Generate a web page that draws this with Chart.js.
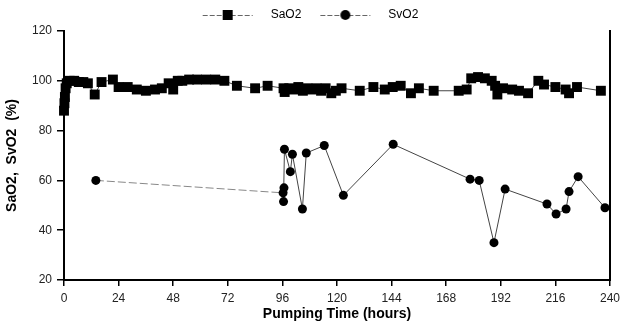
<!DOCTYPE html>
<html>
<head>
<meta charset="utf-8">
<script src="https://cdn.jsdelivr.net/npm/chart.js@4"></script>
<style>
  html, body { margin: 0; padding: 0; background: #fff; }
</style>
</head>
<body>
<canvas id="chart" width="625" height="327"></canvas>
<script>
// ==================== DATOS ====================

const xTicks = [0, 24, 48, 72, 96, 120, 144, 168, 192, 216, 240];
const yTicks = [20, 40, 60, 80, 100, 120];

// SaO2 (cuadrados)
const saHours = [0, 0.2, 0.4, 0.7, 1.2, 2.5, 4.5, 6.5, 8.5, 10.5, 13.5, 16.5, 21.5, 24, 28,
  32, 36, 40, 43, 46, 48, 50, 52, 55, 58.5, 62.5, 66.5, 70.5, 76, 84,
  89.5, 96.5, 97, 99, 101, 103, 105, 107, 109, 111, 113, 115, 117.5, 119.5, 122,
  130, 136, 141, 144.5, 148, 152.5, 156, 162.5, 173.5, 177, 179, 182, 185, 188, 189.5,
  190.5, 193, 197, 200, 204, 208.5, 211, 216, 220.5, 222, 225.5, 236];
const saValues = [88, 91, 93.5, 97, 99, 100, 100, 99.5, 99.5, 99, 94.5, 99.5, 100.5, 97.5, 97.5,
  96.5, 96, 96.5, 97, 99, 96.5, 100, 100, 100.5, 100.5, 100.5, 100.5, 100, 98, 97,
  98, 97, 95.5, 97, 96.5, 97.5, 96, 97, 96.5, 97, 96, 97, 95, 96, 97,
  96, 97.5, 96.5, 97.5, 98, 95, 97, 96, 96, 96.5, 101, 101.5, 101, 100, 98,
  94.5, 97, 96.5, 96, 95, 100, 98.5, 97.5, 96.5, 95, 97.5, 96];

// SvO2 (circulos)
const svHours = [14, 96.3, 96.5, 96.7, 96.9, 99.5, 100.4, 104.8, 106.5, 114.4, 122.8,
  144.7, 178.5, 182.5, 189, 193.9, 212.3, 216.3, 220.7, 222, 226, 237.8];
const svValues = [60, 55, 51.5, 57, 72.5, 63.5, 70.5, 48.5, 71, 74, 54,
  74.5, 60.5, 60, 35, 56.5, 50.5, 46.5, 48.5, 55.5, 61.5, 49];

const toPoints = (xs, ys) => xs.map((x, i) => ({ x, y: ys[i] }));

// icono de leyenda: linea con marcador
function legendIcon(style) {
  const c = document.createElement("canvas");
  c.width = 72;
  c.height = 12;
  const g = c.getContext("2d");
  g.strokeStyle = "#666";
  g.lineWidth = 1;
  g.setLineDash([5, 2]);
  g.beginPath();
  g.moveTo(10, 6.5);
  g.lineTo(60, 6.5);
  g.stroke();
  g.fillStyle = "#000";
  if (style === "rect") g.fillRect(30, 1, 10, 10);
  else {
    g.beginPath();
    g.arc(35, 6, 5, 0, Math.PI * 2);
    g.fill();
  }
  return c;
}

const font = '"Liberation Sans", Arial, sans-serif';

new Chart(document.getElementById("chart"), {
  type: "line",
  data: {
    datasets: [
      {
        label: "SaO2",
        data: toPoints(saHours, saValues),
        pointStyle: "rect",
        pointRadius: 7,
        backgroundColor: "#000",
        pointBorderWidth: 0,
        borderColor: "#444",
        borderWidth: 1,
        clip: false,
      },
      {
        label: "SvO2",
        data: toPoints(svHours, svValues),
        pointStyle: "circle",
        pointRadius: 4.5,
        backgroundColor: "#000",
        pointBorderWidth: 0,
        borderColor: "#444",
        borderWidth: 1,
        clip: false,
        segment: {
          borderColor: (ctx) => (ctx.p0DataIndex === 0 ? "#888" : undefined),
          borderDash: (ctx) => (ctx.p0DataIndex === 0 ? [8, 3] : undefined),
        },
      },
    ],
  },
  options: {
    responsive: false,
    animation: false,
    layout: { padding: { left: 0, right: 14, top: 0, bottom: 0 } },
    plugins: {
      tooltip: { enabled: false },
      legend: {
        position: "top",
        labels: {
          usePointStyle: true,
          pointStyleWidth: 72,
          padding: 9,
          color: "#222",
          font: { family: font, size: 12 },
          generateLabels: (chart) =>
            chart.data.datasets.map((ds, i) => ({
              text: ds.label,
              datasetIndex: i,
              pointStyle: legendIcon(ds.pointStyle),
              fillStyle: "#000",
              strokeStyle: "#000",
              lineWidth: 0,
            })),
        },
      },
    },
    scales: {
      x: {
        type: "linear",
        min: 0,
        max: 240,
        afterBuildTicks: (s) => { s.ticks = xTicks.map((v) => ({ value: v })); },
        afterFit: (s) => { s.height = 47; },
        grid: { drawOnChartArea: false, tickLength: 6, color: "#000", lineWidth: 1.5 },
        border: { color: "#000", width: 2 },
        ticks: { color: "#222", padding: 5, maxRotation: 0, font: { family: font, size: 12 } },
        title: {
          display: true,
          text: "Pumping Time (hours)",
          color: "#000",
          padding: { top: 2, bottom: 4 },
          font: { family: font, size: 14, weight: "bold" },
        },
      },
      y: {
        min: 20,
        max: 120,
        afterBuildTicks: (s) => { s.ticks = yTicks.map((v) => ({ value: v })); },
        afterFit: (s) => { s.width = 64; },
        grid: { drawOnChartArea: false, tickLength: 7, color: "#000", lineWidth: 1.5 },
        border: { color: "#000", width: 2 },
        ticks: { color: "#222", padding: 5, font: { family: font, size: 12 } },
        title: {
          display: true,
          text: "SaO2,  SvO2  (%)",
          color: "#000",
          padding: 4,
          font: { family: font, size: 14, weight: "bold" },
        },
      },
      y2: {
        position: "right",
        min: 20,
        max: 120,
        afterFit: (s) => { s.width = 0; },
        ticks: { display: false },
        grid: { drawOnChartArea: false, tickLength: 0 },
        border: { color: "#000", width: 2 },
      },
    },
  },
});
</script>
</body>
</html>
